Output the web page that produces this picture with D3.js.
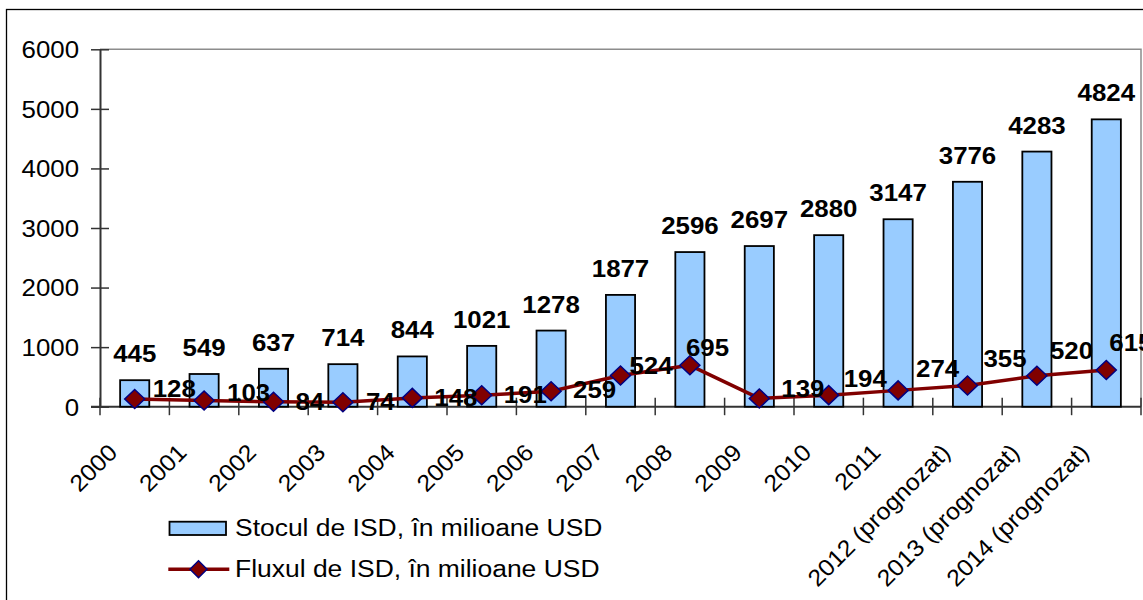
<!DOCTYPE html>
<html>
<head>
<meta charset="utf-8">
<script src="https://cdn.jsdelivr.net/npm/d3@7"></script>
<style>
  html, body { margin: 0; padding: 0; background: #fff; overflow: hidden; }
  svg { display: block; }
  text { font-family: Arial, "Liberation Sans", sans-serif; fill: #000; }
</style>
</head>
<body>
<script>
// ---- data ----
const categories = ["2000","2001","2002","2003","2004","2005","2006","2007","2008","2009","2010","2011",
  "2012 (prognozat)","2013 (prognozat)","2014 (prognozat)"];
const stockValues = [445,549,637,714,844,1021,1278,1877,2596,2697,2880,3147,3776,4283,4824];
const flowValues  = [128,103,84,74,148,191,259,524,695,139,194,274,355,520,615];
const yTickValues = [0,1000,2000,3000,4000,5000,6000];
const seriesNames = ["Stocul de ISD, în milioane USD", "Fluxul de ISD, în milioane USD"];

// ---- layout (label nudges for the flow series, in px) ----
const flowLabelDx = [18,23,22,23,22,22,22,9,-4,22,15,18,16,13,3];
const flowLabelDy = [-2,0,8,8,8,8,7,-1,-9,-1,-8,-13,-19,-17,-19];

const W = 1143, H = 600;
const plot = {left: 100, right: 1141, top: 49.3, bottom: 406.7};
const FS = 23.5, SX = 1.1;
const barFill = "#99CCFF", lineColor = "#800000", markerStroke = "#000080";

const svg = d3.select("body").append("svg").attr("width", W).attr("height", H);
svg.append("rect").attr("width", W).attr("height", H).attr("fill", "#fff");

// outer chart border
svg.append("rect").attr("x", 6.5).attr("y", 9.5).attr("width", 1400).attr("height", 800)
  .attr("fill", "none").attr("stroke", "#000").attr("stroke-width", 1.3);

const x = d3.scaleBand().domain(categories).range([plot.left, plot.right])
  .paddingInner(0.58).paddingOuter(0.29);
const bound = d3.scaleLinear().domain([0, categories.length]).range([plot.left, plot.right]);
const y = d3.scaleLinear().domain([0, 6000]).range([plot.bottom, plot.top]);
const cx = c => x(c) + x.bandwidth() / 2;

// plot area border (top and right)
svg.append("path")
  .attr("d", `M${plot.left},${y(6000)}H${plot.right}V${y(0)}`)
  .attr("fill", "none").attr("stroke", "#8c8c8c").attr("stroke-width", 1.5);

// y axis
const yAxis = d3.axisLeft(y).tickValues(yTickValues).tickSize(9).tickSizeOuter(0).tickFormat(d3.format("d"));
const gy = svg.append("g").attr("transform", `translate(${plot.left},0)`).call(yAxis);
gy.select(".domain").attr("stroke", "#333").attr("stroke-width", 2);
gy.selectAll(".tick line").attr("x1", 9).attr("x2", -9).attr("stroke", "#333").attr("stroke-width", 1.5);
gy.selectAll(".tick text").attr("x", null).attr("dy", null)
  .attr("transform", `translate(-21,8.4) scale(${SX},1)`)
  .attr("text-anchor", "end")
  .style("font-size", FS + "px").style("font-family", "Arial, 'Liberation Sans', sans-serif").attr("fill", "#000");

// x axis line and boundary ticks
svg.append("line").attr("x1", plot.left - 9).attr("x2", plot.right)
  .attr("y1", y(0)).attr("y2", y(0)).attr("stroke", "#333").attr("stroke-width", 2);
svg.append("g").selectAll("line").data(d3.range(categories.length + 1)).join("line")
  .attr("x1", i => bound(i)).attr("x2", i => bound(i))
  .attr("y1", y(0) - 9).attr("y2", y(0) + 8.5)
  .attr("stroke", "#333").attr("stroke-width", 1.5);

// x labels (rotated)
svg.append("g").selectAll("text").data(categories).join("text")
  .attr("text-anchor", "end")
  .attr("transform", c => `translate(${cx(c) - 16},454) rotate(-45) scale(1.06,1)`)
  .style("font-size", FS + "px")
  .text(c => c);

// bars
svg.append("g").selectAll("rect").data(categories).join("rect")
  .attr("x", c => x(c)).attr("width", x.bandwidth())
  .attr("y", (c, i) => y(stockValues[i]))
  .attr("height", (c, i) => y(0) - y(stockValues[i]))
  .attr("fill", barFill).attr("stroke", "#000").attr("stroke-width", 1.8);

// bar labels
svg.append("g").selectAll("text").data(categories).join("text")
  .attr("text-anchor", "middle")
  .attr("transform", (c, i) => `translate(${cx(c)},${y(stockValues[i]) - 18}) scale(${SX},1)`)
  .style("font-size", FS + "px").style("font-weight", "bold")
  .text((c, i) => stockValues[i]);

// flow line
const line = d3.line().x((d, i) => cx(categories[i])).y(d => y(d));
svg.append("path").datum(flowValues).attr("d", line)
  .attr("fill", "none").attr("stroke", lineColor).attr("stroke-width", 3.5).attr("stroke-linejoin", "round");

// markers
const diamond = (hw, hh) => `M0,${-hh}L${hw},0L0,${hh}L${-hw},0Z`;
svg.append("g").selectAll("path").data(flowValues).join("path")
  .attr("d", diamond(10, 9.5))
  .attr("transform", (d, i) => `translate(${cx(categories[i])},${y(d)})`)
  .attr("fill", lineColor).attr("stroke", markerStroke).attr("stroke-width", 1.5);

// flow labels
svg.append("g").selectAll("text").data(flowValues).join("text")
  .attr("text-anchor", "start")
  .attr("transform", (d, i) => `translate(${cx(categories[i]) + flowLabelDx[i]},${y(d) + flowLabelDy[i]}) scale(${SX},1)`)
  .style("font-size", FS + "px").style("font-weight", "bold")
  .text(d => d);

// legend
const lg = svg.append("g");
lg.append("rect").attr("x", 169.5).attr("y", 521.7).attr("width", 56.5).attr("height", 13.3)
  .attr("fill", barFill).attr("stroke", "#000").attr("stroke-width", 1.8);
lg.append("text").attr("transform", `translate(235,536) scale(1.08,1)`)
  .style("font-size", "24.5px").text(seriesNames[0]);
lg.append("line").attr("x1", 168.3).attr("x2", 229.3).attr("y1", 569.3).attr("y2", 569.3)
  .attr("stroke", lineColor).attr("stroke-width", 3.5);
lg.append("path").attr("d", diamond(8.5, 8.5)).attr("transform", "translate(198.5,569.3)")
  .attr("fill", lineColor).attr("stroke", markerStroke).attr("stroke-width", 1.5);
lg.append("text").attr("transform", `translate(235,577.3) scale(1.08,1)`)
  .style("font-size", "24.5px").text(seriesNames[1]);
</script>
</body>
</html>
